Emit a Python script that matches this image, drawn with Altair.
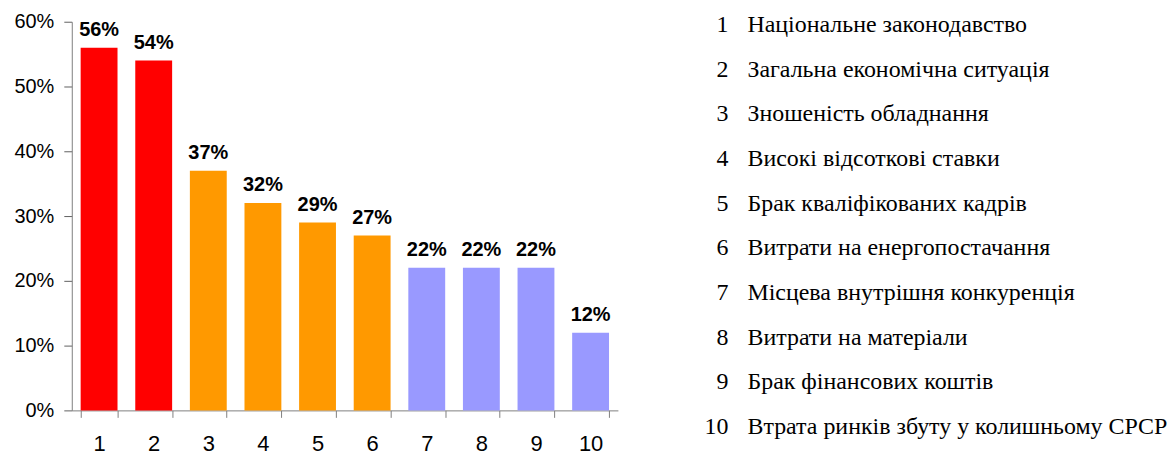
import altair as alt
import pandas as pd

categories = ["1", "2", "3", "4", "5", "6", "7", "8", "9", "10"]
values = [0.56, 0.54, 0.37, 0.32, 0.29, 0.27, 0.22, 0.22, 0.22, 0.12]
groups = ["a", "a", "b", "b", "b", "b", "c", "c", "c", "c"]
group_domain = ["a", "b", "c"]
group_colors = ["#FF0000", "#FF9900", "#9999FF"]
legend_names = [
    "Національне законодавство",
    "Загальна економічна ситуація",
    "Зношеність обладнання",
    "Високі відсоткові ставки",
    "Брак кваліфікованих кадрів",
    "Витрати на енергопостачання",
    "Місцева внутрішня конкуренція",
    "Витрати на матеріали",
    "Брак фінансових коштів",
    "Втрата ринків збуту у колишньому СРСР",
]
y_ticks = [0, 0.1, 0.2, 0.3, 0.4, 0.5, 0.6]

df = pd.DataFrame({"cat": categories, "value": values, "group": groups})
ldf = pd.DataFrame({"cat": categories, "name": legend_names})

SANS = "Liberation Sans"
SERIF = "Liberation Serif"

x = alt.X(
    "cat:N",
    sort=categories,
    scale=alt.Scale(paddingInner=0.325, paddingOuter=0.1625),
    axis=alt.Axis(
        title=None, labelAngle=0, tickBand="extent",
        labelFont=SANS, labelFontSize=22, labelColor="black",
        domainColor="#808080", tickColor="#808080", tickSize=7,
        labelPadding=16,
    ),
)
y = alt.Y(
    "value:Q",
    scale=alt.Scale(domain=[0, 0.6]),
    axis=alt.Axis(
        title=None, format=".0%", values=y_ticks, grid=False,
        labelFont=SANS, labelFontSize=20, labelColor="black",
        domainColor="#808080", tickColor="#606060", tickSize=8,
        labelPadding=10, minExtent=58, maxExtent=58,
    ),
)

bars = alt.Chart(df).mark_bar().encode(
    x=x, y=y,
    color=alt.Color("group:N", scale=alt.Scale(domain=group_domain, range=group_colors), legend=None),
)
labels = alt.Chart(df).mark_text(
    baseline="bottom", dy=-8, font=SANS, fontWeight="bold", fontSize=20, color="black"
).encode(x=x, y=y, text=alt.Text("value:Q", format=".0%"))

left = (bars + labels).properties(width=548, height=390)

leg_y = alt.Y("cat:N", sort=categories, scale=alt.Scale(type="point", padding=0.08), axis=None)
nums = alt.Chart(ldf).mark_text(
    align="right", baseline="middle", font=SERIF, fontSize=24, color="black"
).encode(y=leg_y, x=alt.value(91), text="cat:N")
names = alt.Chart(ldf).mark_text(
    align="left", baseline="middle", font=SERIF, fontSize=24, color="black"
).encode(y=leg_y, x=alt.value(110), text="name:N")

right = (nums + names).properties(width=500, height=410)

chart = (
    alt.hconcat(left, right, spacing=20)
    .properties(padding={"left": 5, "top": 3, "right": 0, "bottom": 0})
    .configure_view(stroke=None)
)

chart.save("out.html", embed_options={"renderer": "svg", "actions": False})
